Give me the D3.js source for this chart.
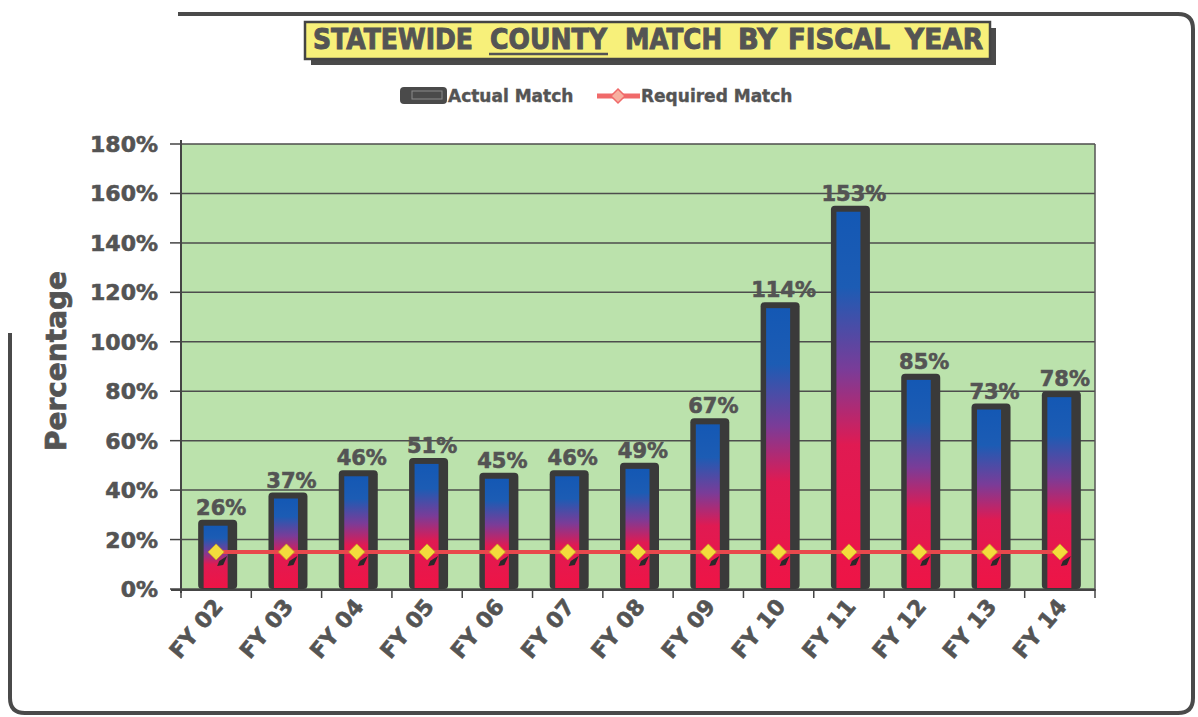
<!DOCTYPE html>
<html><head><meta charset="utf-8">
<script src="https://cdn.jsdelivr.net/npm/d3@7"></script>
<style>html,body{margin:0;padding:0;background:#fff;}svg{display:block;}</style>
</head><body>
<svg id="c" width="1198" height="717"></svg>
<script>
const categories = ["FY 02","FY 03","FY 04","FY 05","FY 06","FY 07","FY 08","FY 09","FY 10","FY 11","FY 12","FY 13","FY 14"];
const actualMatch = [26,37,46,51,45,46,49,67,114,153,85,73,78];
const requiredMatch = [15,15,15,15,15,15,15,15,15,15,15,15,15];
const yTicks = [0,20,40,60,80,100,120,140,160,180];
const titleWords = ["STATEWIDE","COUNTY","MATCH","BY","FISCAL","YEAR"];
const legendLabels = ["Actual Match","Required Match"];

const FONT = "'DejaVu Sans', sans-serif";
const TXT = "#545454";
const svg = d3.select("#c");
const defs = svg.append("defs");
const grad = defs.append("linearGradient").attr("id","barGrad").attr("x1",0).attr("y1",0).attr("x2",0).attr("y2",1);
grad.append("stop").attr("offset","0%").attr("stop-color","#1458b4");
grad.append("stop").attr("offset","20%").attr("stop-color","#1c5cb4");
grad.append("stop").attr("offset","42%").attr("stop-color","#7a3c98");
grad.append("stop").attr("offset","62%").attr("stop-color","#e01a52");
grad.append("stop").attr("offset","100%").attr("stop-color","#ee1446");

// frame
svg.append("path")
  .attr("d","M178,14 L1178,14 Q1193,14 1193,29 L1193,698 Q1193,713 1178,713 L25,713 Q10,713 10,698 L10,333")
  .attr("fill","none").attr("stroke","#4a4a4a").attr("stroke-width",4);

// title
const tb = {x:305,y:22,w:685,h:37};
svg.append("rect").attr("x",tb.x+6).attr("y",tb.y+6).attr("width",tb.w).attr("height",tb.h).attr("fill","#4a4a4a");
svg.append("rect").attr("x",tb.x).attr("y",tb.y).attr("width",tb.w).attr("height",tb.h)
  .attr("fill","#f7f07a").attr("stroke","#444").attr("stroke-width",2.5);
const wordBoxes = [[313,160],[490,117],[625,97],[738,39],[788,102],[905,78]];
svg.append("g").selectAll("text").data(titleWords).join("text")
  .attr("x",(d,i)=>wordBoxes[i][0]).attr("y",49)
  .attr("font-family",FONT).attr("font-weight","bold").attr("font-size",29)
  .attr("fill",TXT).attr("stroke",TXT).attr("stroke-width",1)
  .attr("textLength",(d,i)=>wordBoxes[i][1]).attr("lengthAdjust","spacingAndGlyphs")
  .text(d=>d);
svg.append("line").attr("x1",489).attr("x2",608).attr("y1",54).attr("y2",54).attr("stroke",TXT).attr("stroke-width",2.5);

// scales
const plot = {l:181,r:1095,t:144,b:589};
const x = d3.scaleBand().domain(categories).range([plot.l,plot.r]).padding(0);
const y = d3.scaleLinear().domain([0,180]).range([plot.b,plot.t]);
const bw = x.bandwidth();
const cx = c => x(c)+bw/2;

// plot background
svg.append("rect").attr("x",plot.l).attr("y",plot.t).attr("width",plot.r-plot.l).attr("height",plot.b-plot.t).attr("fill","#bbe2ac");
// gridlines
svg.append("g").selectAll("line").data(yTicks).join("line")
  .attr("x1",plot.l).attr("x2",plot.r).attr("y1",d=>y(d)).attr("y2",d=>y(d))
  .attr("stroke","#4d4d4d").attr("stroke-width",1.5);
svg.append("line").attr("x1",plot.r).attr("x2",plot.r).attr("y1",plot.t).attr("y2",plot.b+2).attr("stroke","#555").attr("stroke-width",1.5);

// bars
const bars = svg.append("g");
bars.selectAll("rect.o").data(actualMatch).join("rect").attr("class","o")
  .attr("x",(d,i)=>cx(categories[i])-18).attr("width",39)
  .attr("y",d=>y(d)-5).attr("height",d=>plot.b-(y(d)-5))
  .attr("rx",4).attr("fill","#3a3a3a");
bars.selectAll("rect.f").data(actualMatch).join("rect").attr("class","f")
  .attr("x",(d,i)=>cx(categories[i])-12.5).attr("width",24)
  .attr("y",d=>y(d)+1).attr("height",d=>plot.b-1-(y(d)+1))
  .attr("fill","url(#barGrad)");

// required line
const line = d3.line().x((d,i)=>cx(categories[i])).y(d=>y(d));
svg.append("path").datum(requiredMatch).attr("d",line).attr("fill","none").attr("stroke","#e8484c").attr("stroke-width",4);
const dm = svg.append("g");
dm.selectAll("path.s").data(requiredMatch).join("path").attr("class","s")
  .attr("d",(d,i)=>{const X=cx(categories[i]),Y=y(d);return `M${X+3},${Y+9} L${X+11},${Y+4} L${X+7},${Y+13} L${X+1},${Y+14} Z`;})
  .attr("fill","#2a2a2a");
dm.selectAll("path.d").data(requiredMatch).join("path").attr("class","d")
  .attr("d",(d,i)=>{const X=cx(categories[i]),Y=y(d);return `M${X},${Y-8} L${X+8},${Y} L${X},${Y+8} L${X-8},${Y} Z`;})
  .attr("fill","#f3dc3c").attr("stroke","#c9a820").attr("stroke-width",0.8);

// data labels
svg.append("g").selectAll("text").data(actualMatch).join("text")
  .attr("x",(d,i)=>cx(categories[i])+5).attr("y",d=>y(d)-10)
  .attr("text-anchor","middle").attr("font-family",FONT).attr("font-weight","bold").attr("font-size",21)
  .attr("fill",TXT).attr("stroke",TXT).attr("stroke-width",0.6)
  .text(d=>d+"%");

// y axis
const ya = svg.append("g");
ya.append("line").attr("x1",plot.l).attr("x2",plot.l).attr("y1",plot.t-4).attr("y2",plot.b+4).attr("stroke","#444").attr("stroke-width",2);
ya.selectAll("line.t").data(yTicks).join("line").attr("class","t")
  .attr("x1",170).attr("x2",plot.l).attr("y1",d=>y(d)).attr("y2",d=>y(d)).attr("stroke","#444").attr("stroke-width",1.5);
ya.selectAll("text").data(yTicks).join("text")
  .attr("x",158).attr("y",d=>y(d)+8).attr("text-anchor","end")
  .attr("font-family",FONT).attr("font-weight","bold").attr("font-size",22).attr("fill",TXT)
  .attr("stroke",TXT).attr("stroke-width",0.6)
  .text(d=>d+"%");
svg.append("text").attr("transform","translate(66,361) rotate(-90)").attr("text-anchor","middle")
  .attr("font-family",FONT).attr("font-weight","bold").attr("font-size",28).attr("fill",TXT)
  .attr("stroke",TXT).attr("stroke-width",0.7).text("Percentage");

// x axis
const xa = svg.append("g");
xa.append("line").attr("x1",plot.l-10).attr("x2",plot.r).attr("y1",plot.b+1).attr("y2",plot.b+1).attr("stroke","#444").attr("stroke-width",2);
xa.selectAll("line.t").data(categories.concat(["_end"])).join("line").attr("class","t")
  .attr("x1",(d,i)=>plot.l+i*bw).attr("x2",(d,i)=>plot.l+i*bw).attr("y1",plot.b).attr("y2",plot.b+9)
  .attr("stroke","#444").attr("stroke-width",1.5);
xa.selectAll("text").data(categories).join("text")
  .attr("transform",d=>`translate(${cx(d)+8},${plot.b+18}) rotate(-50)`)
  .attr("text-anchor","end").attr("font-family",FONT).attr("font-weight","bold").attr("font-size",22).attr("fill",TXT)
  .attr("stroke",TXT).attr("stroke-width",0.6)
  .text(d=>d);

// legend
const lg = svg.append("g");
lg.append("rect").attr("x",400).attr("y",87).attr("width",47).attr("height",17).attr("rx",4).attr("fill","#4a4a4a");
lg.append("rect").attr("x",412).attr("y",91).attr("width",30).attr("height",8).attr("fill","none").attr("stroke","#8a8a8a").attr("stroke-width",1);
lg.append("text").attr("x",448).attr("y",102).attr("font-family",FONT).attr("font-weight","bold").attr("font-size",17).attr("fill",TXT).attr("stroke",TXT).attr("stroke-width",0.4).text(legendLabels[0]);
lg.append("line").attr("x1",597).attr("x2",640).attr("y1",96).attr("y2",96).attr("stroke","#f06a6a").attr("stroke-width",5);
lg.append("path").attr("d","M618,89 L625,96 L618,103 L611,96 Z").attr("fill","#f7b0a0").attr("stroke","#f06a6a").attr("stroke-width",1.5);
lg.append("text").attr("x",641).attr("y",102).attr("font-family",FONT).attr("font-weight","bold").attr("font-size",17).attr("fill",TXT).attr("stroke",TXT).attr("stroke-width",0.4).text(legendLabels[1]);
</script>
</body></html>
